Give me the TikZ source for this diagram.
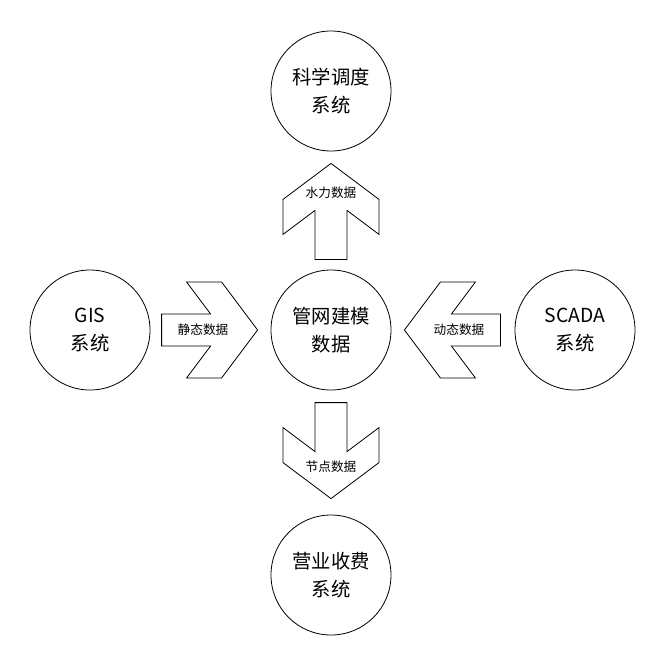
\documentclass[tikz,border=0pt]{standalone}
\usepackage{fontspec}
\setmainfont{Noto Sans CJK SC}
\usetikzlibrary{calc}

\tikzset{
  datarrow/.pic={
    \draw[line width=0.6pt] (0,0) -- (-36,48) -- (-71,48) -- (-47,16) -- (-96,16)
      -- (-96,-16) -- (-47,-16) -- (-71,-48) -- (-36,-48) -- cycle;
  }
}

\begin{document}
\begin{tikzpicture}[x=0.75pt, y=-0.75pt,
    sysnode/.style={draw, circle, line width=0.6pt, minimum size=90pt, inner sep=0pt,
      align=center, font=\fontsize{14.5}{21.5}\selectfont},
    flowlabel/.style={font=\fontsize{9.5}{11}\selectfont, inner sep=1pt}]
  \useasboundingbox (0,0) rectangle (663,658);
  % Systems
  \node[sysnode] (hub)   at (331,330) {管网建模\\数据};
  \node[sysnode] (sched) at (331,91)  {科学调度\\系统};
  \node[sysnode] (gis)   at (90,330)  {GIS\\系统};
  \node[sysnode] (scada) at (575,330) {SCADA\\系统};
  \node[sysnode] (bill)  at (331,575) {营业收费\\系统};
  % Data arrows
  \pic[rotate=0]   at ($(hub.west)+(-13,0)$)   {datarrow};
  \pic[rotate=180] at ($(hub.east)+(13,0)$)    {datarrow};
  \pic[rotate=90]  at ($(sched.south)+(0,12)$) {datarrow};
  \pic[rotate=-90] at ($(bill.north)+(0,-16)$) {datarrow};
  % Arrow labels
  \node[flowlabel] (static)  at (203,330) {静态数据};
  \node[flowlabel] (dynamic) at (459,330) {动态数据};
  \node[flowlabel] (hydro)   at (331,193) {水力数据};
  \node[flowlabel] (nodes)   at (331,467) {节点数据};
\end{tikzpicture}
\end{document}
